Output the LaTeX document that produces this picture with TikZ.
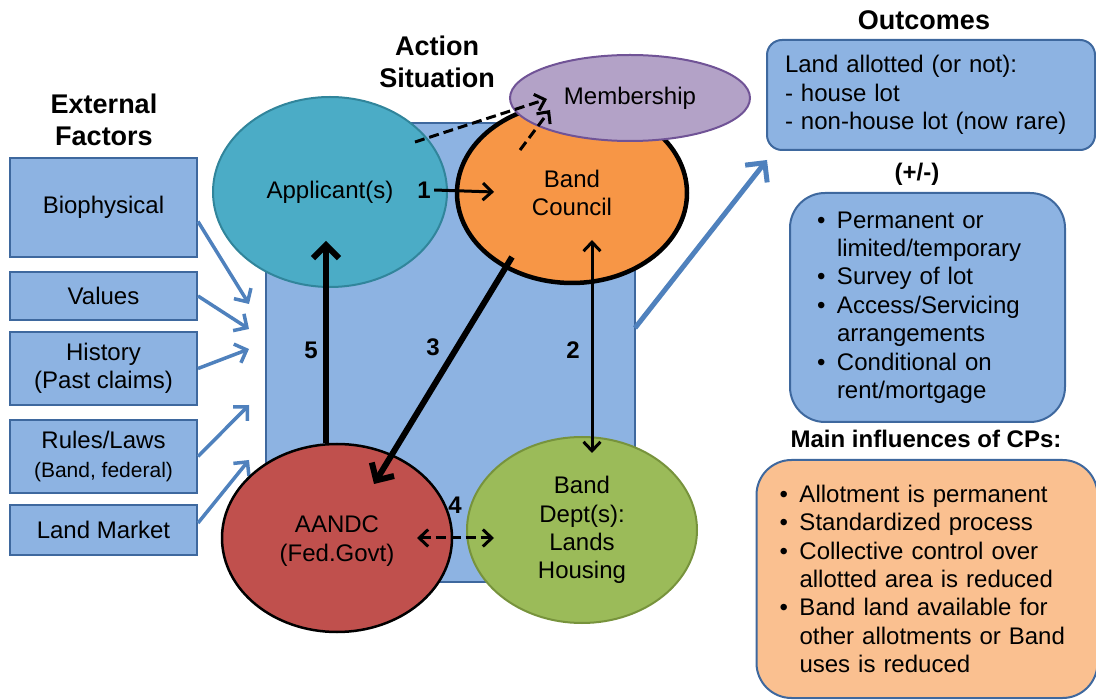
\documentclass[tikz,border=0pt]{standalone}
\usepackage{fontspec}
\setmainfont{Liberation Sans}
\usetikzlibrary{positioning, shapes.geometric, arrows.meta}
\definecolor{BoxBlue}{RGB}{141, 179, 226}
\definecolor{EdgeBlue}{RGB}{62, 104, 158}
\definecolor{ArrowBlue}{RGB}{79, 129, 189}
\definecolor{TealFill}{RGB}{75, 172, 198}
\definecolor{TealEdge}{RGB}{49, 133, 155}
\definecolor{OrangeFill}{RGB}{247, 150, 70}
\definecolor{LilacFill}{RGB}{179, 162, 199}
\definecolor{LilacEdge}{RGB}{112, 83, 150}
\definecolor{RedFill}{RGB}{192, 80, 77}
\definecolor{GreenFill}{RGB}{155, 187, 89}
\definecolor{GreenEdge}{RGB}{119, 147, 60}
\definecolor{PeachFill}{RGB}{250, 192, 144}

\newcommand{\bul}{\makebox[20pt][l]{\textbullet}}
\newcommand{\ind}{\hspace*{20pt}}

\begin{document}
\begin{tikzpicture}[x=1pt, y=-1pt,
    every node/.style={font=\fontsize{24}{28.4}\selectfont},
    title/.style={font=\bfseries\fontsize{27}{32}\selectfont, align=center},
    factor/.style={draw=EdgeBlue, line width=2pt, fill=BoxBlue, minimum width=187pt, align=center, inner sep=0pt},
    actor/.style={ellipse, inner sep=0pt, align=center},
    outbox/.style={draw=EdgeBlue, line width=2pt, align=left},
    num/.style={font=\bfseries\fontsize{24}{28.4}\selectfont},
    influence/.style={-{Straight Barb[length=10pt,width=20pt]}, ArrowBlue, line width=3.5pt},
    link/.style={-{Straight Barb[length=9pt,width=17pt]}, line width=3pt},
    both/.style={{Straight Barb[length=9pt,width=17pt]}-{Straight Barb[length=9pt,width=17pt]}},
    strong/.style={-{Straight Barb[length=13pt,width=26pt]}, line width=6pt},
    member/.style={-{Straight Barb[length=9pt,width=17pt]}, line width=3pt, dash pattern=on 10pt off 5pt}]
    \useasboundingbox (0,0) rectangle (1096,700);

    % Action situation area
    \draw[draw=EdgeBlue, line width=2pt, fill=BoxBlue] (266,123) rectangle (635,582);
    \node[title] (extlabel) at (104,120) {External\\Factors};
    \node[title] (actlabel) at (437,62) {Action\\Situation};

    % External factors
    \node[factor, minimum height=99pt] (bio) at (103.5,207.5) {Biophysical};
    \node[factor, minimum height=48pt] (values) at (103.5,296) {Values};
    \node[factor, minimum height=73pt] (history) at (103.5,368.5) {History\\(Past claims)};
    \node[factor, minimum height=73pt] (rules) at (103.5,456.5) {Rules/Laws\\{\fontsize{21}{26}\selectfont(Band, federal)}};
    \node[factor, minimum height=50pt] (market) at (103.5,530) {Land Market};
    \foreach \src/\dy/\ty in {bio/-14/304, values/0/329, history/0/349, rules/0/405, market/7/460} {
      \coordinate (in-\src) at (249,\ty);
      \draw[influence] ([yshift=\dy pt]\src.east) -- (in-\src);
    }

    % Actors
    \node[actor, draw=TealEdge, line width=2pt, fill=TealFill, minimum width=234pt, minimum height=190pt] (applicant) at (330,192) {Applicant(s)};
    \node[actor, draw=black, line width=4.5pt, fill=OrangeFill, minimum width=230pt, minimum height=180pt] (council) at (572,193) {Band\\Council};
    \node[actor, draw=LilacEdge, line width=2pt, fill=LilacFill, minimum width=240pt, minimum height=86pt] (membership) at (630,98) {Membership};
    \node[actor, draw=black, line width=2.5pt, fill=RedFill, minimum width=230pt, minimum height=188pt] (aandc) at (337,538) {};
    \node[align=center] (aandctext) at (337,541) {AANDC\\(Fed.Govt)};
    \node[actor, draw=GreenEdge, line width=2pt, fill=GreenFill, minimum width=230pt, minimum height=186pt] (bdept) at (582,530) {Band\\Dept(s):\\Lands\\Housing};

    % Links between actors
    \node[num] (n1) at (424,190) {1};
    \coordinate (t1) at (494,192);
    \draw[link] (n1.east) -- (t1);
    \coordinate (t2a) at (592,240);
    \coordinate (t2b) at (592,453);
    \draw[link, both] (t2a) -- (t2b);
    \node[num] (n2) at (573,350) {2};
    \coordinate (s3) at (512,257);
    \coordinate (t3) at (374,484);
    \draw[strong] (s3) -- (t3);
    \node[num] (n3) at (433,347) {3};
    \coordinate (t4a) at (417,538);
    \coordinate (t4b) at (494,538);
    \draw[member, both] (t4a) -- (t4b);
    \node[num] (n4) at (455,505) {4};
    \coordinate (t5) at (326,241);
    \draw[strong] (t5 |- aandc.north) -- (t5);
    \node[num] (n5) at (311,350) {5};
    \coordinate (s6) at (415,142);
    \coordinate (t6) at (547,99);
    \draw[member] (s6) -- (t6);
    \coordinate (s7) at (520,150);
    \coordinate (t7) at (550,110);
    \draw[member] (s7) -- (t7);

    % Outcomes
    \node[title] (outlabel) at (924,20) {Outcomes};
    \node[outbox, fill=BoxBlue, rounded corners=15pt, text width=292pt, inner xsep=18pt, minimum height=110pt] (outcome) at (931,95) {Land allotted (or not):\\- house lot\\- non-house lot (now rare)};
    \coordinate (t8) at (767,160);
    \draw[influence, line width=5pt, -{Straight Barb[length=14pt,width=28pt]}] (635,328) -- (t8);
    \node[num] (pm) at (917,174) {(+/-)};
    \node[outbox, fill=BoxBlue, rounded corners=35pt, text width=221pt, inner xsep=27pt, minimum height=229pt] (terms) at (927.5,307.5) {\bul Permanent or\\\ind limited/temporary\\\bul Survey of lot\\\bul Access/Servicing\\\ind arrangements\\\bul Conditional on\\\ind rent/mortgage};
    \node[font=\bfseries\fontsize{24}{28.4}\selectfont] (cplabel) at (926,439) {Main influences of CPs:};
    \node[outbox, fill=PeachFill, rounded corners=35pt, text width=295pt, inner xsep=23pt, minimum height=238pt] (cps) at (927,579) {\bul Allotment is permanent\\\bul Standardized process\\\bul Collective control over\\\ind allotted area is reduced\\\bul Band land available for\\\ind other allotments or Band\\\ind uses is reduced};
\end{tikzpicture}
\end{document}
